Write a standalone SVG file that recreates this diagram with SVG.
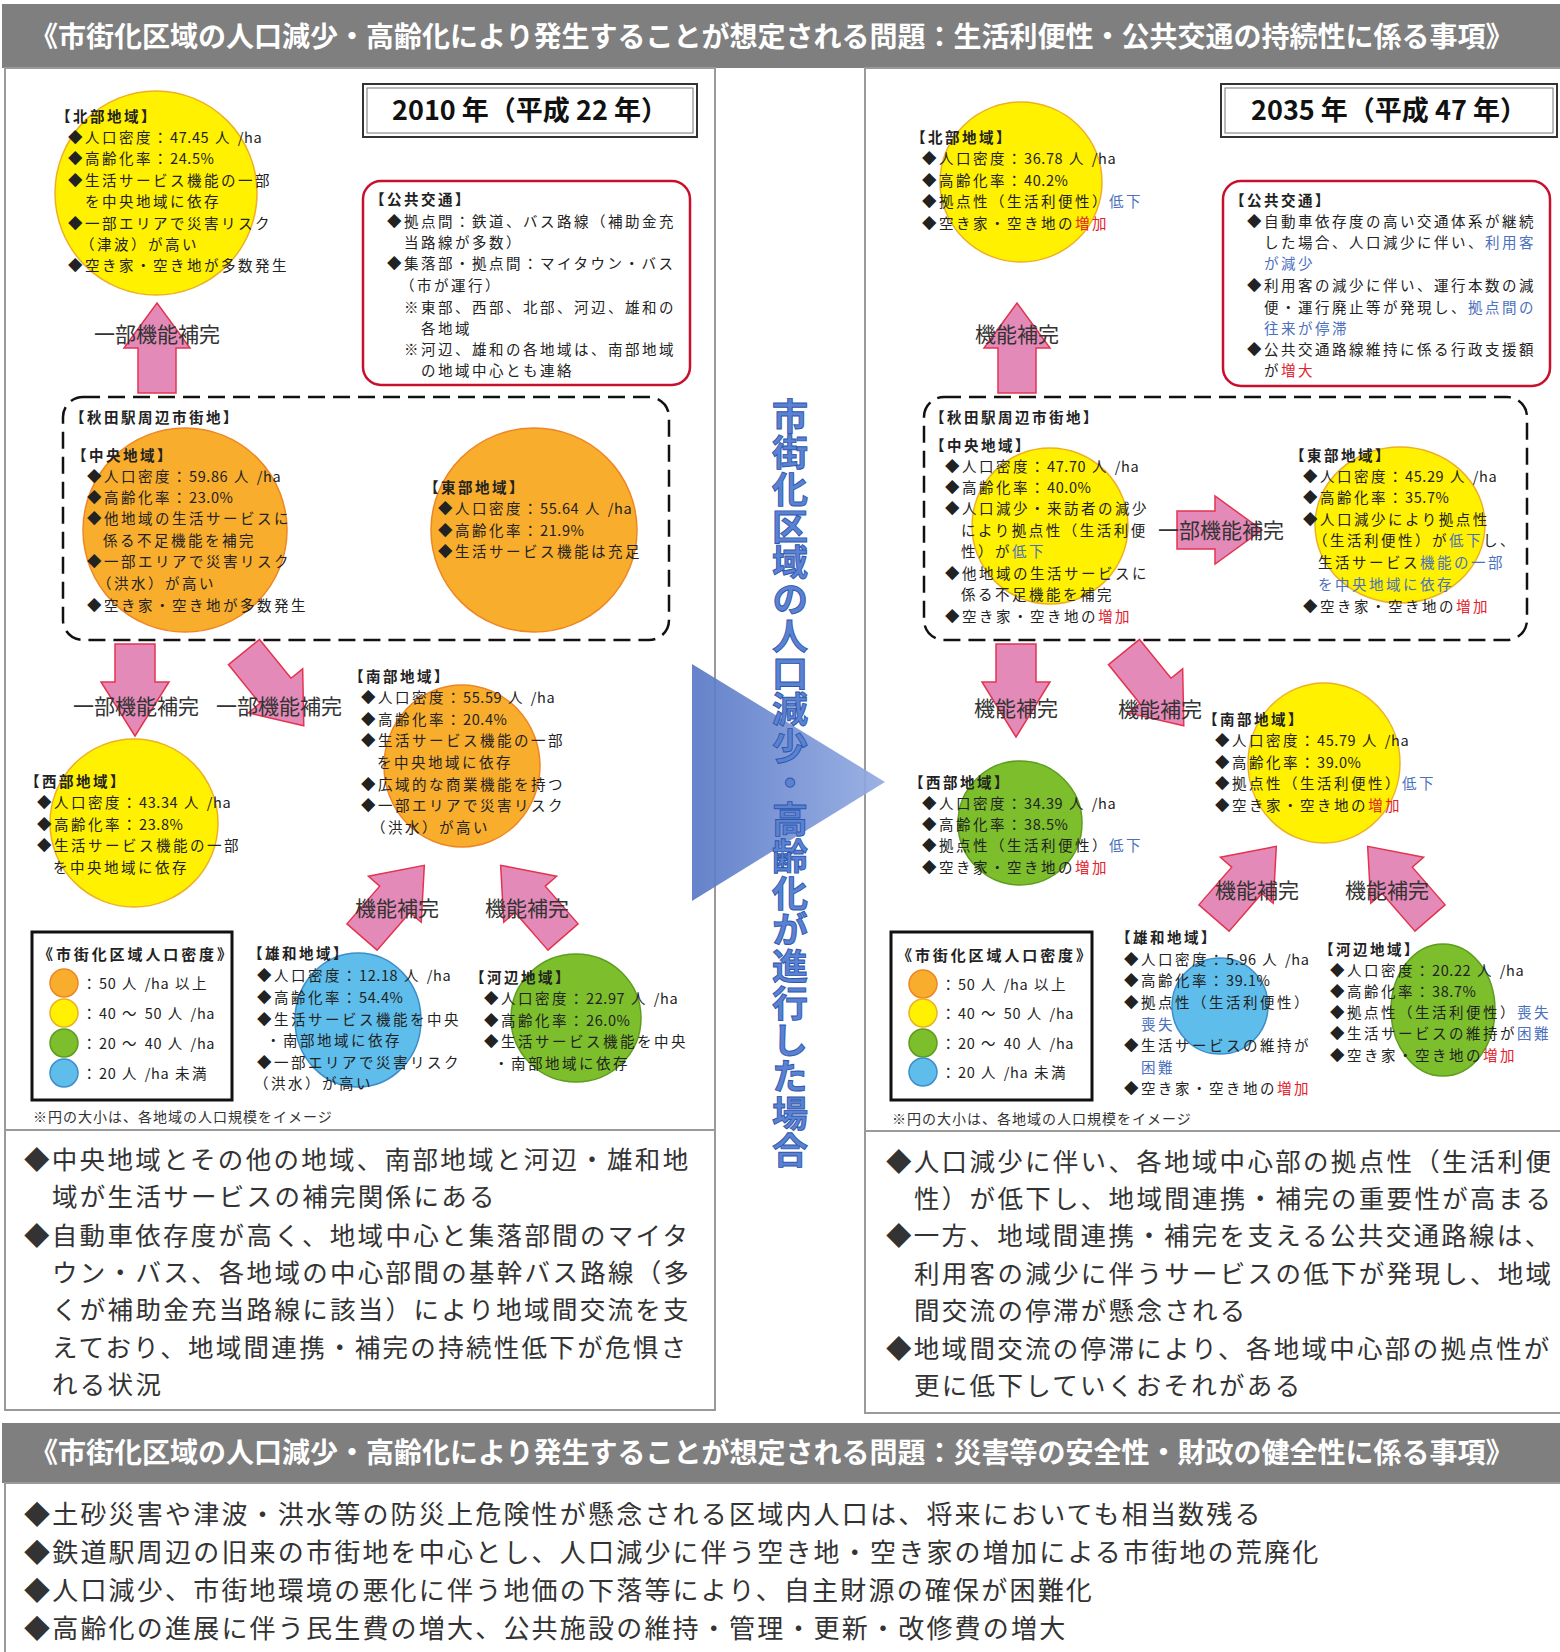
<svg xmlns="http://www.w3.org/2000/svg" width="1560" height="1652" viewBox="0 0 1560 1652">
<defs>
<style>
text{font-family:"Noto Sans CJK JP","Noto Sans",sans-serif;fill:#222}
.s{font-size:14.5px;letter-spacing:2.5px}
.h{font-size:14.5px;letter-spacing:2.5px;font-weight:bold}
.n{letter-spacing:0.6px}
.lt{font-size:15px;letter-spacing:2.9px;font-weight:bold}
.bl{fill:#4A70BE}
.rd{fill:#E3202C}
.lab{font-size:21px;fill:#333;text-anchor:middle}
.big{font-size:25.5px;letter-spacing:2.3px;fill:#333}
.big2{font-size:26px;letter-spacing:2.2px;fill:#333}
.hdr{font-size:28px;font-weight:bold;fill:#fff}
.yr{font-size:27px;font-weight:bold;text-anchor:middle;fill:#111}
.arr{fill:#E48AB8;stroke:#E3344F;stroke-width:1.5}
.or{fill:#F8AD2D;stroke:#EE8625;stroke-width:1.5}
.ye{fill:#FFF100;stroke:#EDB024;stroke-width:1.5}
.gr{fill:#7DBE2C;stroke:#5D9C1E;stroke-width:1.5}
.bu{fill:#5EBDEA;stroke:#3E8ECA;stroke-width:1.5}
.panel{fill:#fff;stroke:#9A9A9A;stroke-width:2}
.dash{fill:none;stroke:#111;stroke-width:2.5;stroke-dasharray:17 8}
.pt{fill:none;stroke:#C8102E;stroke-width:2.5}
.leg{fill:#fff;stroke:#111;stroke-width:3}
.fn{font-size:14px;letter-spacing:1px;fill:#333}
.vt{font-size:36px;font-weight:bold;fill:#5A82D2;stroke:#2F56AC;stroke-width:0.9;letter-spacing:0.7px}
</style>
<linearGradient id="tri" x1="0" y1="0" x2="1" y2="0">
<stop offset="0" stop-color="#5878C6"/>
<stop offset="1" stop-color="#93ABE2"/>
</linearGradient>
<path id="ba" d="M0,-20 L50,-20 L50,-35 L95,0 L50,35 L50,20 L0,20 Z"/>
</defs>
<rect width="1560" height="1652" fill="#fff"/>

<!-- headers -->
<g id="header1">
<rect x="2" y="4" width="1558" height="64" fill="#7F7F7F"/>
<text class="hdr" x="30" y="47">《市街化区域の人口減少・高齢化により発生することが想定される問題：生活利便性・公共交通の持続性に係る事項》</text>
</g>

<!-- panels -->
<g id="panels">
<rect class="panel" x="5" y="68" width="710" height="1062"/>
<rect class="panel" x="5" y="1130" width="710" height="280"/>
<rect class="panel" x="865" y="68" width="700" height="1063"/>
<rect class="panel" x="865" y="1131" width="700" height="282"/>
</g>

<!-- year boxes -->
<g id="year2010">
<rect x="363" y="84" width="334" height="53" fill="#fff" stroke="#333" stroke-width="2"/>
<rect x="367" y="88" width="326" height="45" fill="none" stroke="#777" stroke-width="1"/>
<text class="yr" x="530" y="120">2010 年（平成 22 年）</text>
</g>
<g id="year2035">
<rect x="1221" y="84" width="336" height="53" fill="#fff" stroke="#333" stroke-width="2"/>
<rect x="1225" y="88" width="328" height="45" fill="none" stroke="#777" stroke-width="1"/>
<text class="yr" x="1389" y="120">2035 年（平成 47 年）</text>
</g>

<!-- center arrow -->
<g id="transition">
<polygon points="692,664 885,782 692,901" fill="url(#tri)" opacity="0.92"/>
<text class="vt" x="790" y="398" style="writing-mode:vertical-rl">市街化区域の人口減少・高齢化が進行した場合</text>
</g>

<!-- connectors -->
<g id="connectors">
<polygon class="arr" points="138,393 138,348 124,348 157,303 190,348 176,348 176,393"/>
<polygon class="arr" points="998,393 998,348 984,348 1017,303 1050,348 1036,348 1036,393"/>
<polygon class="arr" points="115,644 155,644 155,682 169,682 135,736 101,682 115,682"/>
<polygon class="arr" points="996,644 1036,644 1036,682 1050,682 1016,737 982,682 996,682"/>
<use href="#ba" class="arr" transform="translate(244,652) rotate(51)"/>
<use href="#ba" class="arr" transform="translate(1124,652) rotate(51)"/>
<use href="#ba" class="arr" transform="translate(362,937) rotate(-49)"/>
<use href="#ba" class="arr" transform="translate(563,937) rotate(-131)"/>
<use href="#ba" class="arr" transform="translate(1214,918) rotate(-49)"/>
<use href="#ba" class="arr" transform="translate(1430,918) rotate(-131)"/>
<polygon class="arr" points="1177,511 1215,511 1215,496 1262,530 1215,564 1215,549 1177,549"/>
<text class="lab" x="157" y="342">一部機能補完</text>
<text class="lab" x="1017" y="342">機能補完</text>
<text class="lab" x="136" y="714">一部機能補完</text>
<text class="lab" x="279" y="714">一部機能補完</text>
<text class="lab" x="1016" y="716">機能補完</text>
<text class="lab" x="1160" y="717">機能補完</text>
<text class="lab" x="397" y="916">機能補完</text>
<text class="lab" x="527" y="916">機能補完</text>
<text class="lab" x="1257" y="898">機能補完</text>
<text class="lab" x="1387" y="898">機能補完</text>
<text class="lab" x="1221" y="538">一部機能補完</text>
</g>

<!-- ===== 2010 ===== -->
<g id="north2010">
<ellipse class="ye" cx="156" cy="193" rx="101" ry="102"/>
<text class="h" x="56" y="122">【北部地域】</text>
<text class="s" x="68" y="143">◆人口密度：<tspan class="n">47.45</tspan> 人 <tspan class="n">/ha</tspan></text>
<text class="s" x="68" y="164">◆高齢化率：<tspan class="n">24.5%</tspan></text>
<text class="s" x="68" y="186">◆生活サービス機能の一部</text>
<text class="s" x="85" y="207">を中央地域に依存</text>
<text class="s" x="68" y="229">◆一部エリアで災害リスク</text>
<text class="s" x="80" y="250">（津波）が高い</text>
<text class="s" x="68" y="271">◆空き家・空き地が多数発生</text>
</g>

<g id="transit2010">
<rect class="pt" x="363" y="181" width="327" height="204" rx="18"/>
<text class="h" x="370" y="205">【公共交通】</text>
<text class="s" x="387" y="227">◆拠点間：鉄道、バス路線（補助金充</text>
<text class="s" x="404" y="248">当路線が多数）</text>
<text class="s" x="387" y="269">◆集落部・拠点間：マイタウン・バス</text>
<text class="s" x="400" y="291">（市が運行）</text>
<text class="s" x="404" y="313">※東部、西部、北部、河辺、雄和の</text>
<text class="s" x="421" y="334">各地域</text>
<text class="s" x="404" y="355">※河辺、雄和の各地域は、南部地域</text>
<text class="s" x="421" y="376">の地域中心とも連絡</text>
</g>

<g id="akita2010">
<rect class="dash" x="63" y="397" width="606" height="243" rx="20"/>
<text class="h" x="70" y="423">【秋田駅周辺市街地】</text>
</g>

<g id="central2010">
<ellipse class="or" cx="185" cy="530" rx="102" ry="102"/>
<text class="h" x="72" y="461">【中央地域】</text>
<text class="s" x="87" y="482">◆人口密度：<tspan class="n">59.86</tspan> 人 <tspan class="n">/ha</tspan></text>
<text class="s" x="87" y="503">◆高齢化率：<tspan class="n">23.0%</tspan></text>
<text class="s" x="87" y="524">◆他地域の生活サービスに</text>
<text class="s" x="103" y="546">係る不足機能を補完</text>
<text class="s" x="87" y="567">◆一部エリアで災害リスク</text>
<text class="s" x="97" y="589">（洪水）が高い</text>
<text class="s" x="87" y="611">◆空き家・空き地が多数発生</text>
</g>

<g id="east2010">
<ellipse class="or" cx="534" cy="530" rx="103" ry="102"/>
<text class="h" x="424" y="493">【東部地域】</text>
<text class="s" x="438" y="514">◆人口密度：<tspan class="n">55.64</tspan> 人 <tspan class="n">/ha</tspan></text>
<text class="s" x="438" y="536">◆高齢化率：<tspan class="n">21.9%</tspan></text>
<text class="s" x="438" y="557">◆生活サービス機能は充足</text>
</g>

<g id="west2010">
<ellipse class="ye" cx="134" cy="823" rx="84" ry="84"/>
<text class="h" x="25" y="787">【西部地域】</text>
<text class="s" x="37" y="808">◆人口密度：<tspan class="n">43.34</tspan> 人 <tspan class="n">/ha</tspan></text>
<text class="s" x="37" y="830">◆高齢化率：<tspan class="n">23.8%</tspan></text>
<text class="s" x="37" y="851">◆生活サービス機能の一部</text>
<text class="s" x="53" y="873">を中央地域に依存</text>
</g>

<g id="south2010">
<ellipse class="or" cx="462" cy="766" rx="78" ry="81"/>
<text class="h" x="349" y="682">【南部地域】</text>
<text class="s" x="361" y="703">◆人口密度：<tspan class="n">55.59</tspan> 人 <tspan class="n">/ha</tspan></text>
<text class="s" x="361" y="725">◆高齢化率：<tspan class="n">20.4%</tspan></text>
<text class="s" x="361" y="746">◆生活サービス機能の一部</text>
<text class="s" x="377" y="768">を中央地域に依存</text>
<text class="s" x="361" y="790">◆広域的な商業機能を持つ</text>
<text class="s" x="361" y="811">◆一部エリアで災害リスク</text>
<text class="s" x="371" y="833">（洪水）が高い</text>
</g>

<g id="yuwa2010">
<ellipse class="bu" cx="358" cy="1020" rx="63" ry="67"/>
<text class="h" x="248" y="959">【雄和地域】</text>
<text class="s" x="257" y="981">◆人口密度：<tspan class="n">12.18</tspan> 人 <tspan class="n">/ha</tspan></text>
<text class="s" x="257" y="1003">◆高齢化率：<tspan class="n">54.4%</tspan></text>
<text class="s" x="257" y="1025">◆生活サービス機能を中央</text>
<text class="s" x="266" y="1046">・南部地域に依存</text>
<text class="s" x="257" y="1068">◆一部エリアで災害リスク</text>
<text class="s" x="254" y="1089">（洪水）が高い</text>
</g>

<g id="kawabe2010">
<ellipse class="gr" cx="576" cy="1018" rx="65" ry="64"/>
<text class="h" x="470" y="983">【河辺地域】</text>
<text class="s" x="484" y="1004">◆人口密度：<tspan class="n">22.97</tspan> 人 <tspan class="n">/ha</tspan></text>
<text class="s" x="484" y="1026">◆高齢化率：<tspan class="n">26.0%</tspan></text>
<text class="s" x="484" y="1047">◆生活サービス機能を中央</text>
<text class="s" x="494" y="1069">・南部地域に依存</text>
</g>

<g id="legend2010">
<rect class="leg" x="32" y="932" width="200" height="168"/>
<text class="lt" x="38" y="960">《市街化区域人口密度》</text>
<circle class="or" cx="64" cy="983" r="14"/>
<circle class="ye" cx="64" cy="1013" r="14"/>
<circle class="gr" cx="64" cy="1043" r="14"/>
<circle class="bu" cx="64" cy="1073" r="14"/>
<text class="s" x="82" y="989">：<tspan class="n">50</tspan> 人 <tspan class="n">/ha</tspan> 以上</text>
<text class="s" x="82" y="1019">：<tspan class="n">40</tspan> ～ <tspan class="n">50</tspan> 人 <tspan class="n">/ha</tspan></text>
<text class="s" x="82" y="1049">：<tspan class="n">20</tspan> ～ <tspan class="n">40</tspan> 人 <tspan class="n">/ha</tspan></text>
<text class="s" x="82" y="1079">：<tspan class="n">20</tspan> 人 <tspan class="n">/ha</tspan> 未満</text>
<text class="fn" x="33" y="1122">※円の大小は、各地域の人口規模をイメージ</text>
</g>

<g id="summary2010">
<text class="big" x="24" y="1169">◆中央地域とその他の地域、南部地域と河辺・雄和地</text>
<text class="big" x="52" y="1206">域が生活サービスの補完関係にある</text>
<text class="big" x="24" y="1245">◆自動車依存度が高く、地域中心と集落部間のマイタ</text>
<text class="big" x="52" y="1282">ウン・バス、各地域の中心部間の基幹バス路線（多</text>
<text class="big" x="52" y="1319">くが補助金充当路線に該当）により地域間交流を支</text>
<text class="big" x="52" y="1357">えており、地域間連携・補完の持続性低下が危惧さ</text>
<text class="big" x="52" y="1394">れる状況</text>
</g>

<!-- ===== 2035 ===== -->
<g id="north2035">
<ellipse class="ye" cx="1021" cy="182" rx="81" ry="80"/>
<text class="h" x="911" y="143">【北部地域】</text>
<text class="s" x="922" y="164">◆人口密度：<tspan class="n">36.78</tspan> 人 <tspan class="n">/ha</tspan></text>
<text class="s" x="922" y="186">◆高齢化率：<tspan class="n">40.2%</tspan></text>
<text class="s" x="922" y="207">◆拠点性（生活利便性）<tspan class="bl">低下</tspan></text>
<text class="s" x="922" y="229">◆空き家・空き地の<tspan class="rd">増加</tspan></text>
</g>

<g id="transit2035">
<rect class="pt" x="1223" y="181" width="327" height="205" rx="18"/>
<text class="h" x="1230" y="206">【公共交通】</text>
<text class="s" x="1247" y="227">◆自動車依存度の高い交通体系が継続</text>
<text class="s" x="1264" y="248">した場合、人口減少に伴い、<tspan class="bl">利用客</tspan></text>
<text class="s bl" x="1264" y="269">が減少</text>
<text class="s" x="1247" y="291">◆利用客の減少に伴い、運行本数の減</text>
<text class="s" x="1264" y="313">便・運行廃止等が発現し、<tspan class="bl">拠点間の</tspan></text>
<text class="s bl" x="1264" y="334">往来が停滞</text>
<text class="s" x="1247" y="355">◆公共交通路線維持に係る行政支援額</text>
<text class="s" x="1264" y="376">が<tspan class="rd">増大</tspan></text>
</g>

<g id="akita2035">
<rect class="dash" x="924" y="397" width="603" height="243" rx="20"/>
<text class="h" x="930" y="423">【秋田駅周辺市街地】</text>
</g>

<g id="central2035">
<ellipse class="ye" cx="1050" cy="526" rx="78" ry="78"/>
<text class="h" x="930" y="451">【中央地域】</text>
<text class="s" x="945" y="472">◆人口密度：<tspan class="n">47.70</tspan> 人 <tspan class="n">/ha</tspan></text>
<text class="s" x="945" y="493">◆高齢化率：<tspan class="n">40.0%</tspan></text>
<text class="s" x="945" y="514">◆人口減少・来訪者の減少</text>
<text class="s" x="961" y="536">により拠点性（生活利便</text>
<text class="s" x="961" y="557">性）が<tspan class="bl">低下</tspan></text>
<text class="s" x="945" y="579">◆他地域の生活サービスに</text>
<text class="s" x="961" y="600">係る不足機能を補完</text>
<text class="s" x="945" y="622">◆空き家・空き地の<tspan class="rd">増加</tspan></text>
</g>

<g id="east2035">
<ellipse class="ye" cx="1400" cy="525" rx="85" ry="78"/>
<text class="h" x="1290" y="461">【東部地域】</text>
<text class="s" x="1303" y="482">◆人口密度：<tspan class="n">45.29</tspan> 人 <tspan class="n">/ha</tspan></text>
<text class="s" x="1303" y="503">◆高齢化率：<tspan class="n">35.7%</tspan></text>
<text class="s" x="1303" y="525">◆人口減少により拠点性</text>
<text class="s" x="1313" y="546">（生活利便性）が<tspan class="bl">低下</tspan>し、</text>
<text class="s" x="1318" y="568">生活サービス<tspan class="bl">機能の一部</tspan></text>
<text class="s bl" x="1318" y="590">を中央地域に依存</text>
<text class="s" x="1303" y="612">◆空き家・空き地の<tspan class="rd">増加</tspan></text>
</g>

<g id="west2035">
<ellipse class="gr" cx="1020" cy="823" rx="62" ry="62"/>
<text class="h" x="909" y="788">【西部地域】</text>
<text class="s" x="922" y="809">◆人口密度：<tspan class="n">34.39</tspan> 人 <tspan class="n">/ha</tspan></text>
<text class="s" x="922" y="830">◆高齢化率：<tspan class="n">38.5%</tspan></text>
<text class="s" x="922" y="851">◆拠点性（生活利便性）<tspan class="bl">低下</tspan></text>
<text class="s" x="922" y="873">◆空き家・空き地の<tspan class="rd">増加</tspan></text>
</g>

<g id="south2035">
<ellipse class="ye" cx="1324" cy="763" rx="76" ry="80"/>
<text class="h" x="1203" y="725">【南部地域】</text>
<text class="s" x="1215" y="746">◆人口密度：<tspan class="n">45.79</tspan> 人 <tspan class="n">/ha</tspan></text>
<text class="s" x="1215" y="768">◆高齢化率：<tspan class="n">39.0%</tspan></text>
<text class="s" x="1215" y="789">◆拠点性（生活利便性）<tspan class="bl">低下</tspan></text>
<text class="s" x="1215" y="811">◆空き家・空き地の<tspan class="rd">増加</tspan></text>
</g>

<g id="yuwa2035">
<ellipse class="bu" cx="1220" cy="1006" rx="48" ry="48"/>
<text class="h" x="1116" y="943">【雄和地域】</text>
<text class="s" x="1124" y="965">◆人口密度：<tspan class="n">5.96</tspan> 人 <tspan class="n">/ha</tspan></text>
<text class="s" x="1124" y="986">◆高齢化率：<tspan class="n">39.1%</tspan></text>
<text class="s" x="1124" y="1008">◆拠点性（生活利便性）</text>
<text class="s bl" x="1141" y="1030">喪失</text>
<text class="s" x="1124" y="1051">◆生活サービスの維持が</text>
<text class="s bl" x="1141" y="1073">困難</text>
<text class="s" x="1124" y="1094">◆空き家・空き地の<tspan class="rd">増加</tspan></text>
</g>

<g id="kawabe2035">
<ellipse class="gr" cx="1443" cy="1010" rx="52" ry="66"/>
<text class="h" x="1319" y="955">【河辺地域】</text>
<text class="s" x="1330" y="976">◆人口密度：<tspan class="n">20.22</tspan> 人 <tspan class="n">/ha</tspan></text>
<text class="s" x="1330" y="997">◆高齢化率：<tspan class="n">38.7%</tspan></text>
<text class="s" x="1330" y="1018">◆拠点性（生活利便性）<tspan class="bl">喪失</tspan></text>
<text class="s" x="1330" y="1039">◆生活サービスの維持が<tspan class="bl">困難</tspan></text>
<text class="s" x="1330" y="1061">◆空き家・空き地の<tspan class="rd">増加</tspan></text>
</g>

<g id="legend2035">
<rect class="leg" x="891" y="932" width="201" height="168"/>
<text class="lt" x="897" y="961">《市街化区域人口密度》</text>
<circle class="or" cx="923" cy="984" r="14"/>
<circle class="ye" cx="923" cy="1013" r="14"/>
<circle class="gr" cx="923" cy="1043" r="14"/>
<circle class="bu" cx="923" cy="1072" r="14"/>
<text class="s" x="941" y="990">：<tspan class="n">50</tspan> 人 <tspan class="n">/ha</tspan> 以上</text>
<text class="s" x="941" y="1019">：<tspan class="n">40</tspan> ～ <tspan class="n">50</tspan> 人 <tspan class="n">/ha</tspan></text>
<text class="s" x="941" y="1049">：<tspan class="n">20</tspan> ～ <tspan class="n">40</tspan> 人 <tspan class="n">/ha</tspan></text>
<text class="s" x="941" y="1078">：<tspan class="n">20</tspan> 人 <tspan class="n">/ha</tspan> 未満</text>
<text class="fn" x="892" y="1124">※円の大小は、各地域の人口規模をイメージ</text>
</g>

<g id="summary2035">
<text class="big" x="886" y="1171">◆人口減少に伴い、各地域中心部の拠点性（生活利便</text>
<text class="big" x="914" y="1208">性）が低下し、地域間連携・補完の重要性が高まる</text>
<text class="big" x="886" y="1245">◆一方、地域間連携・補完を支える公共交通路線は、</text>
<text class="big" x="914" y="1283">利用客の減少に伴うサービスの低下が発現し、地域</text>
<text class="big" x="914" y="1320">間交流の停滞が懸念される</text>
<text class="big" x="886" y="1358">◆地域間交流の停滞により、各地域中心部の拠点性が</text>
<text class="big" x="914" y="1395">更に低下していくおそれがある</text>
</g>

<!-- section 2 -->
<g id="header2">
<rect x="2" y="1423" width="1558" height="60" fill="#7F7F7F"/>
<text class="hdr" x="30" y="1463">《市街化区域の人口減少・高齢化により発生することが想定される問題：災害等の安全性・財政の健全性に係る事項》</text>
</g>
<g id="section2">
<rect x="5" y="1483" width="1560" height="180" fill="none" stroke="#9A9A9A" stroke-width="2"/>
<text class="big2" x="24" y="1524">◆土砂災害や津波・洪水等の防災上危険性が懸念される区域内人口は、将来においても相当数残る</text>
<text class="big2" x="24" y="1562">◆鉄道駅周辺の旧来の市街地を中心とし、人口減少に伴う空き地・空き家の増加による市街地の荒廃化</text>
<text class="big2" x="24" y="1600">◆人口減少、市街地環境の悪化に伴う地価の下落等により、自主財源の確保が困難化</text>
<text class="big2" x="24" y="1638">◆高齢化の進展に伴う民生費の増大、公共施設の維持・管理・更新・改修費の増大</text>
</g>
</svg>
